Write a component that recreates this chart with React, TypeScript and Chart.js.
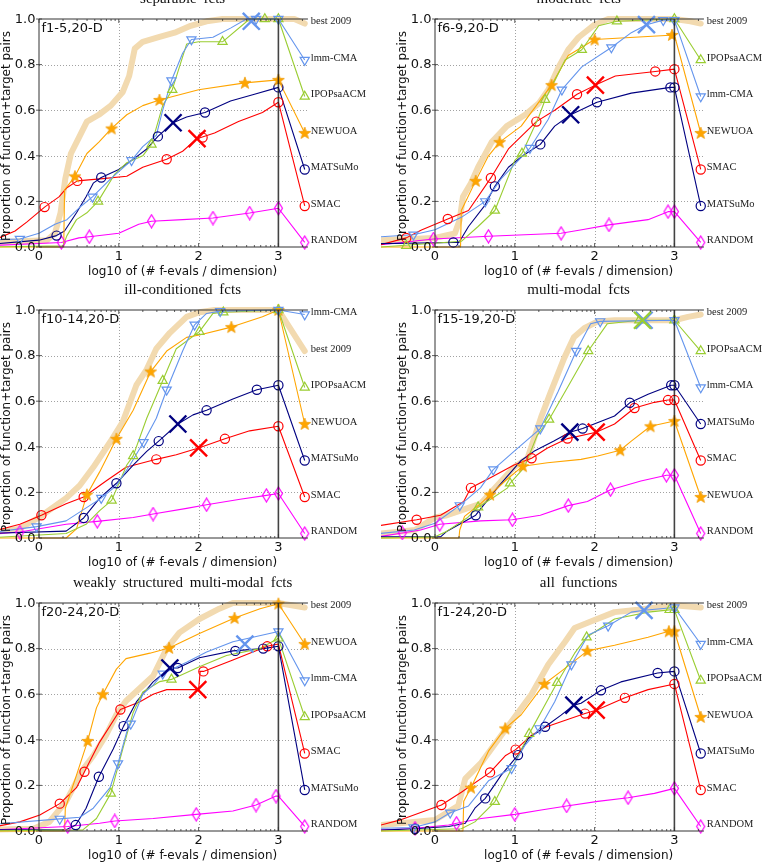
import React, { useEffect, useRef } from 'react';
import { Chart, registerables } from 'chart.js';

Chart.register(...registerables);

// ---------- shared axis / label settings ----------
const ALGS = ['lmm-CMA', 'IPOPsaACM', 'NEWUOA', 'MATSuMo', 'SMAC', 'RANDOM'];
const BEST = 'best 2009';
const LABEL_SLOTS = [0.98, 0.82, 0.66, 0.5, 0.34, 0.18, 0.02];
const END_X = 3.33;
const X_TICKS = [0, 1, 2, 3];
const Y_TICKS = [0, 0.2, 0.4, 0.6, 0.8, 1.0];
const X_LABEL = 'log10 of (# f-evals / dimension)';
const Y_LABEL = 'Proportion of function+target pairs';

// ---------- f1-5 separable ----------
const sepBest = [-0.68,0.02, 0.1,0.03, 0.2,0.06, 0.27,0.15, 0.33,0.3, 0.4,0.41, 0.5,0.48, 0.6,0.55, 0.75,0.58, 0.9,0.62, 1.05,0.68, 1.13,0.75, 1.2,0.87, 1.3,0.9, 1.5,0.92, 1.7,0.94, 1.9,0.97, 2.1,0.99, 2.3,1.0, 3.2,1.0];
const sepLmm = [-0.68,0.03, -0.24,0.035, 0.0,0.06, 0.2,0.1, 0.35,0.12, 0.53,0.18, 0.67,0.22, 0.9,0.3, 1.16,0.38, 1.3,0.44, 1.47,0.49, 1.55,0.6, 1.66,0.73, 1.8,0.85, 1.91,0.91, 2.18,0.92, 2.4,0.96, 2.6,1.0, 3.0,1.0];
const sepLmmMk = [-0.24,0.035, 0.67,0.22, 1.16,0.38, 1.66,0.73, 1.91,0.91, 2.72,1.0, 3.0,1.0];
const sepIpop = [-0.68,0.0, 0.3,0.005, 0.35,0.05, 0.47,0.12, 0.6,0.15, 0.74,0.2, 0.95,0.32, 1.1,0.37, 1.3,0.4, 1.41,0.45, 1.55,0.62, 1.67,0.69, 1.85,0.89, 2.0,0.9, 2.3,0.9, 2.64,1.0, 3.0,1.0];
const sepIpopMk = [0.74,0.2, 1.41,0.45, 1.67,0.69, 2.3,0.9, 2.83,1.0, 3.0,1.0];
const sepNew = [-0.68,0.0, 0.31,0.0, 0.32,0.25, 0.45,0.31, 0.6,0.41, 0.75,0.46, 0.91,0.52, 1.1,0.58, 1.3,0.62, 1.51,0.645, 2.0,0.69, 2.58,0.72, 3.0,0.733];
const sepNewMk = [0.45,0.31, 0.91,0.52, 1.51,0.645, 2.58,0.72, 3.0,0.733];
const sepMat = [-0.68,0.01, 0.0,0.03, 0.22,0.05, 0.32,0.07, 0.47,0.15, 0.59,0.22, 0.68,0.28, 0.78,0.305, 1.0,0.34, 1.2,0.39, 1.35,0.43, 1.49,0.485, 1.68,0.545, 1.85,0.57, 2.08,0.59, 2.4,0.64, 2.7,0.67, 3.0,0.7];
const sepMatMk = [0.22,0.05, 0.78,0.305, 1.49,0.485, 2.08,0.59, 3.0,0.7];
const sepSmac = [-0.68,0.02, -0.5,0.04, -0.3,0.07, -0.15,0.11, 0.07,0.175, 0.25,0.22, 0.35,0.26, 0.48,0.29, 0.8,0.3, 1.1,0.31, 1.3,0.35, 1.6,0.385, 1.8,0.42, 1.98,0.475, 2.2,0.5, 2.5,0.55, 2.8,0.59, 3.0,0.635];
const sepSmacMk = [0.07,0.175, 0.48,0.29, 1.6,0.385, 2.05,0.48, 3.0,0.635];
const sepRnd = [-0.68,0.005, 0.28,0.02, 0.5,0.04, 0.63,0.045, 1.0,0.06, 1.25,0.1, 1.41,0.113, 1.8,0.12, 2.18,0.127, 2.64,0.149, 3.0,0.17];
const sepRndMk = [0.28,0.02, 0.63,0.045, 1.41,0.113, 2.18,0.127, 2.64,0.149, 3.0,0.17];
const sepCross: [string, number, number][] = [['lmm-CMA',2.66,0.99], ['MATSuMo',1.68,0.545], ['SMAC',1.98,0.475]];
const sepOrder = ['best 2009','lmm-CMA','IPOPsaACM','NEWUOA','MATSuMo','SMAC','RANDOM'];

// ---------- f6-9 moderate ----------
const modBest = [-0.68,0.03, 0.0,0.04, 0.25,0.06, 0.31,0.12, 0.35,0.22, 0.45,0.28, 0.54,0.35, 0.71,0.46, 0.9,0.53, 1.13,0.58, 1.3,0.63, 1.42,0.69, 1.55,0.79, 1.67,0.865, 1.8,0.92, 2.0,0.975, 2.17,1.0, 3.0,1.0, 3.2,0.99];
const modLmm = [-0.68,0.045, -0.27,0.054, 0.0,0.076, 0.33,0.13, 0.63,0.2, 0.83,0.3, 1.19,0.434, 1.42,0.56, 1.59,0.69, 1.84,0.79, 2.21,0.875, 2.46,0.94, 2.65,0.975, 2.86,0.995, 3.0,0.995];
const modLmmMk = [-0.27,0.054, 0.63,0.2, 1.19,0.434, 1.59,0.69, 2.21,0.875, 2.86,0.995, 3.0,0.995];
const modIpop = [-0.68,0.0, 0.33,0.025, 0.54,0.09, 0.75,0.16, 1.0,0.38, 1.09,0.41, 1.3,0.57, 1.38,0.646, 1.63,0.82, 1.84,0.865, 2.05,0.97, 2.28,0.99, 3.0,1.0];
const modIpopMk = [-0.36,0.005, 0.75,0.16, 1.09,0.41, 1.38,0.646, 1.84,0.865, 2.28,0.99, 3.0,1.0];
const modNew = [-0.68,0.0, 0.32,0.0, 0.33,0.16, 0.51,0.29, 0.67,0.4, 0.81,0.46, 1.08,0.53, 1.29,0.63, 1.46,0.71, 1.67,0.84, 2.0,0.91, 2.5,0.92, 3.0,0.93];
const modNewMk = [0.51,0.29, 0.81,0.46, 1.46,0.71, 2.0,0.91, 2.97,0.93];
const modMat = [-0.68,0.015, 0.23,0.02, 0.3,0.02, 0.42,0.09, 0.62,0.18, 0.75,0.266, 0.92,0.35, 1.1,0.4, 1.32,0.45, 1.5,0.53, 1.7,0.58, 2.03,0.635, 2.46,0.675, 2.95,0.7, 3.0,0.7];
const modMatMk = [0.23,0.02, 0.75,0.266, 1.32,0.45, 2.03,0.635, 2.95,0.7, 3.0,0.7];
const modSmac = [-0.68,0.01, -0.36,0.04, -0.17,0.075, 0.16,0.123, 0.42,0.16, 0.7,0.303, 0.92,0.43, 1.27,0.55, 1.5,0.6, 1.78,0.67, 2.01,0.71, 2.26,0.75, 2.76,0.77, 3.0,0.78];
const modSmacMk = [-0.36,0.04, 0.16,0.123, 0.7,0.303, 1.27,0.55, 1.78,0.67, 2.76,0.77, 3.0,0.78];
const modRnd = [-0.68,0.01, -0.02,0.035, 0.67,0.047, 1.58,0.06, 1.84,0.076, 2.18,0.097, 2.67,0.12, 2.92,0.155, 3.0,0.155];
const modRndMk = [-0.02,0.035, 0.67,0.047, 1.58,0.06, 2.18,0.097, 2.92,0.155, 3.0,0.155];
const modCross: [string, number, number][] = [['lmm-CMA',2.65,0.975], ['MATSuMo',1.7,0.58], ['SMAC',2.01,0.71]];
const modOrder = ['best 2009','IPOPsaACM','lmm-CMA','NEWUOA','SMAC','MATSuMo','RANDOM'];

// ---------- f10-14 ill-conditioned ----------
const illBest = [-0.68,0.02, -0.25,0.04, 0.0,0.09, 0.34,0.175, 0.51,0.23, 0.68,0.31, 0.89,0.42, 1.05,0.51, 1.22,0.67, 1.35,0.74, 1.47,0.83, 1.64,0.9, 1.85,0.97, 2.01,0.99, 2.2,1.0, 3.0,1.0];
const illLmm = [-0.68,0.02, -0.03,0.05, 0.34,0.075, 0.78,0.175, 0.97,0.23, 1.14,0.32, 1.31,0.42, 1.47,0.525, 1.6,0.65, 1.8,0.82, 1.95,0.935, 2.1,0.985, 2.27,0.995, 3.0,1.0];
const illLmmMk = [-0.03,0.05, 0.78,0.175, 1.31,0.42, 1.6,0.65, 1.95,0.935, 2.27,0.995, 3.0,1.0];
const illIpop = [-0.68,0.0, 0.34,0.02, 0.59,0.06, 0.76,0.12, 0.91,0.165, 1.1,0.32, 1.18,0.36, 1.35,0.525, 1.55,0.69, 1.72,0.83, 2.01,0.905, 2.18,0.985, 2.31,0.99, 3.0,1.0];
const illIpopMk = [0.91,0.165, 1.18,0.36, 1.55,0.69, 2.01,0.905, 2.31,0.99, 3.0,1.0];
const illNew = [-0.68,0.0, 0.34,0.0, 0.47,0.04, 0.6,0.19, 0.76,0.29, 0.97,0.435, 1.18,0.56, 1.4,0.73, 1.6,0.82, 1.85,0.88, 2.01,0.89, 2.41,0.925, 2.8,0.97, 3.0,1.0];
const illNewMk = [0.6,0.19, 0.97,0.435, 1.4,0.73, 2.41,0.925, 3.0,1.0];
const illMat = [-0.68,0.02, 0.34,0.03, 0.56,0.088, 0.76,0.175, 0.97,0.24, 1.18,0.32, 1.35,0.38, 1.5,0.425, 1.74,0.5, 1.93,0.54, 2.1,0.56, 2.43,0.61, 2.73,0.65, 3.0,0.67];
const illMatMk = [0.56,0.088, 0.97,0.24, 1.5,0.425, 2.1,0.56, 2.73,0.65, 3.0,0.67];
const illSmac = [-0.68,0.02, -0.24,0.06, 0.03,0.1, 0.34,0.15, 0.56,0.18, 0.84,0.25, 1.09,0.31, 1.47,0.345, 1.72,0.365, 2.0,0.395, 2.33,0.435, 2.64,0.47, 3.0,0.49];
const illSmacMk = [0.03,0.1, 0.56,0.18, 1.47,0.345, 2.33,0.435, 3.0,0.49];
const illRnd = [-0.68,0.015, -0.24,0.026, 0.34,0.06, 0.73,0.073, 1.18,0.09, 1.43,0.105, 1.85,0.13, 2.1,0.146, 2.52,0.17, 2.85,0.187, 3.0,0.195];
const illRndMk = [-0.24,0.026, 0.73,0.073, 1.43,0.105, 2.1,0.146, 2.85,0.187, 3.0,0.195];
const illCross: [string, number, number][] = [['MATSuMo',1.74,0.5], ['SMAC',2.0,0.395]];
const illOrder = ['lmm-CMA','best 2009','IPOPsaACM','NEWUOA','MATSuMo','SMAC','RANDOM'];

// ---------- f15-19 multi-modal ----------
const mulBest = [-0.68,0.02, -0.25,0.035, 0.0,0.09, 0.15,0.1, 0.57,0.15, 0.78,0.23, 0.99,0.31, 1.16,0.35, 1.33,0.53, 1.45,0.64, 1.62,0.79, 1.74,0.88, 1.87,0.92, 2.04,0.95, 2.25,0.955, 3.0,0.955, 3.17,0.97];
const mulLmm = [-0.68,0.02, -0.26,0.035, 0.0,0.065, 0.31,0.143, 0.57,0.22, 0.73,0.3, 0.99,0.38, 1.32,0.48, 1.54,0.64, 1.77,0.82, 1.95,0.94, 2.07,0.95, 3.0,0.955];
const mulLmmMk = [0.31,0.143, 0.73,0.3, 1.32,0.48, 1.77,0.82, 2.07,0.95, 3.0,0.955];
const mulIpop = [-0.68,0.0, 0.0,0.005, 0.15,0.03, 0.41,0.09, 0.54,0.135, 0.74,0.18, 0.91,0.22, 0.94,0.24, 1.12,0.31, 1.28,0.45, 1.43,0.52, 1.66,0.66, 1.92,0.82, 2.16,0.94, 2.56,0.955, 3.0,0.955];
const mulIpopMk = [0.54,0.135, 0.94,0.24, 1.43,0.52, 1.92,0.82, 2.56,0.955, 3.0,0.955];
const mulNew = [-0.68,0.0, 0.3,0.0, 0.31,0.035, 0.37,0.095, 0.57,0.15, 0.69,0.19, 0.91,0.26, 1.1,0.315, 1.41,0.33, 1.83,0.345, 2.04,0.36, 2.32,0.385, 2.46,0.425, 2.7,0.49, 3.0,0.513];
const mulNewMk = [0.69,0.19, 1.1,0.315, 2.32,0.385, 2.7,0.49, 3.0,0.513];
const mulMat = [-0.68,0.005, 0.07,0.005, 0.15,0.03, 0.51,0.1, 0.78,0.22, 1.08,0.34, 1.24,0.38, 1.49,0.425, 1.69,0.464, 1.85,0.48, 2.25,0.535, 2.44,0.593, 2.67,0.63, 2.96,0.67, 3.0,0.67];
const mulMatMk = [0.51,0.1, 1.85,0.48, 2.44,0.593, 2.96,0.67, 3.0,0.67];
const mulSmac = [-0.68,0.055, -0.23,0.08, 0.07,0.1, 0.36,0.16, 0.45,0.22, 0.7,0.265, 0.99,0.32, 1.21,0.35, 1.41,0.395, 1.66,0.436, 2.02,0.464, 2.25,0.5, 2.5,0.57, 2.75,0.595, 2.92,0.605, 3.0,0.605];
const mulSmacMk = [-0.23,0.08, 0.45,0.22, 1.21,0.35, 1.66,0.436, 2.5,0.57, 2.92,0.605, 3.0,0.605];
const mulRnd = [-0.68,0.007, -0.41,0.022, -0.18,0.035, 0.06,0.06, 0.57,0.075, 0.97,0.08, 1.32,0.1, 1.67,0.142, 1.91,0.16, 2.2,0.212, 2.58,0.25, 2.9,0.275, 3.0,0.275];
const mulRndMk = [-0.41,0.022, 0.06,0.06, 0.97,0.08, 1.67,0.142, 2.2,0.212, 2.9,0.275, 3.0,0.275];
const mulCross: [string, number, number][] = [['IPOPsaACM',2.6,0.955], ['lmm-CMA',2.62,0.955], ['MATSuMo',1.69,0.464], ['SMAC',2.02,0.464]];
const mulOrder = ['best 2009','IPOPsaACM','lmm-CMA','MATSuMo','SMAC','NEWUOA','RANDOM'];

// ---------- f20-24 weakly structured multi-modal ----------
const weaBest = [-0.68,0.005, -0.07,0.01, 0.13,0.04, 0.34,0.13, 0.55,0.27, 0.68,0.33, 0.84,0.42, 0.97,0.51, 1.09,0.57, 1.26,0.625, 1.43,0.68, 1.6,0.8, 1.76,0.87, 2.01,0.93, 2.26,0.975, 2.43,1.0, 3.0,1.0];
const weaLmm = [-0.68,0.026, 0.26,0.053, 0.51,0.06, 0.68,0.1, 0.89,0.19, 0.99,0.296, 1.1,0.435, 1.15,0.47, 1.3,0.6, 1.43,0.64, 1.55,0.69, 1.85,0.74, 2.1,0.785, 2.43,0.83, 2.68,0.85, 3.0,0.875];
const weaLmmMk = [0.26,0.053, 0.99,0.296, 1.15,0.47, 1.55,0.69, 3.0,0.875];
const weaIpop = [-0.68,0.0, 0.55,0.005, 0.72,0.055, 0.9,0.165, 1.05,0.36, 1.18,0.52, 1.3,0.61, 1.51,0.655, 1.66,0.665, 2.01,0.72, 2.35,0.77, 2.77,0.8, 3.0,0.845];
const weaIpopMk = [0.9,0.165, 1.66,0.665, 3.0,0.845];
const weaNew = [-0.68,0.0, 0.32,0.0, 0.33,0.1, 0.47,0.245, 0.61,0.395, 0.72,0.54, 0.8,0.6, 0.97,0.71, 1.09,0.756, 1.39,0.78, 1.63,0.803, 2.01,0.866, 2.45,0.934, 2.77,0.975, 3.0,0.997];
const weaNewMk = [0.61,0.395, 0.8,0.6, 1.63,0.803, 2.45,0.934, 3.0,0.997];
const weaMat = [-0.68,0.005, 0.34,0.005, 0.46,0.026, 0.59,0.1, 0.75,0.238, 0.93,0.36, 1.06,0.46, 1.22,0.566, 1.43,0.654, 1.64,0.715, 1.74,0.715, 2.01,0.76, 2.43,0.79, 2.81,0.8, 3.0,0.81];
const weaMatMk = [0.46,0.026, 0.75,0.238, 1.06,0.46, 1.74,0.715, 2.46,0.79, 2.81,0.8, 3.0,0.81];
const weaSmac = [-0.68,0.01, -0.24,0.04, 0.01,0.07, 0.26,0.12, 0.47,0.19, 0.57,0.26, 0.76,0.39, 1.02,0.533, 1.26,0.566, 1.43,0.6, 1.6,0.62, 2.0,0.62, 2.02,0.7, 2.06,0.7, 2.43,0.75, 2.86,0.81, 3.0,0.82];
const weaSmacMk = [0.26,0.12, 0.57,0.26, 1.02,0.533, 2.06,0.7, 2.86,0.81];
const weaRnd = [-0.68,0.003, 0.36,0.02, 0.76,0.034, 0.95,0.044, 1.43,0.055, 1.97,0.073, 2.43,0.088, 2.72,0.114, 2.97,0.153, 3.0,0.153];
const weaRndMk = [0.36,0.02, 0.95,0.044, 1.97,0.073, 2.72,0.114, 2.97,0.153];
const weaCross: [string, number, number][] = [['lmm-CMA',2.58,0.82], ['MATSuMo',1.64,0.715], ['SMAC',1.99,0.62]];
const weaOrder = ['best 2009','NEWUOA','lmm-CMA','IPOPsaACM','SMAC','MATSuMo','RANDOM'];

// ---------- f1-24 all functions ----------
const allBest = [-0.68,0.026, 0.0,0.048, 0.29,0.11, 0.38,0.23, 0.58,0.3, 0.79,0.4, 1.0,0.5, 1.21,0.6, 1.42,0.73, 1.63,0.83, 1.75,0.89, 1.96,0.92, 2.25,0.96, 2.54,0.97, 3.0,0.99];
const allLmm = [-0.68,0.012, -0.27,0.015, 0.0,0.04, 0.19,0.08, 0.42,0.11, 0.67,0.22, 0.96,0.275, 1.13,0.377, 1.31,0.45, 1.5,0.567, 1.71,0.73, 1.92,0.86, 2.17,0.9, 2.46,0.96, 2.62,0.968, 3.0,0.98];
const allLmmMk = [-0.27,0.015, 0.19,0.08, 0.96,0.275, 1.31,0.45, 1.71,0.73, 2.17,0.9, 3.0,0.98];
const allIpop = [-0.68,0.0, 0.33,0.01, 0.5,0.04, 0.75,0.128, 1.0,0.3, 1.18,0.426, 1.42,0.58, 1.53,0.65, 1.75,0.78, 1.9,0.85, 2.25,0.93, 2.67,0.96, 2.94,0.97, 3.0,0.97];
const allIpopMk = [0.75,0.128, 1.18,0.426, 1.53,0.65, 1.9,0.85, 2.94,0.97, 3.0,0.97];
const allNew = [-0.68,0.0, 0.35,0.0, 0.36,0.13, 0.45,0.19, 0.67,0.35, 0.88,0.45, 1.08,0.51, 1.37,0.645, 1.58,0.7, 1.91,0.79, 2.25,0.815, 2.67,0.85, 2.93,0.876, 3.0,0.876];
const allNewMk = [0.45,0.19, 0.88,0.45, 1.37,0.645, 1.91,0.79, 2.93,0.876, 3.0,0.876];
const allMat = [-0.68,0.004, -0.25,0.01, 0.17,0.02, 0.38,0.034, 0.5,0.1, 0.63,0.143, 0.83,0.245, 1.04,0.333, 1.17,0.406, 1.38,0.457, 1.58,0.508, 1.74,0.552, 1.83,0.56, 2.08,0.617, 2.33,0.654, 2.79,0.693, 3.0,0.7];
const allMatMk = [-0.25,0.01, 0.63,0.143, 1.04,0.333, 1.38,0.457, 2.08,0.617, 2.79,0.693, 3.0,0.7];
const allSmac = [-0.68,0.026, -0.42,0.05, 0.08,0.114, 0.33,0.17, 0.69,0.257, 0.88,0.33, 1.01,0.357, 1.21,0.42, 1.38,0.455, 1.67,0.49, 1.88,0.515, 2.02,0.53, 2.38,0.584, 2.67,0.62, 3.0,0.645];
const allSmacMk = [0.08,0.114, 0.69,0.257, 1.01,0.357, 1.88,0.515, 2.38,0.584, 3.0,0.645];
const allRnd = [-0.68,0.004, -0.25,0.012, 0.17,0.026, 0.27,0.034, 0.58,0.055, 1.0,0.073, 1.33,0.092, 1.65,0.11, 2.04,0.13, 2.42,0.146, 2.75,0.165, 3.0,0.187];
const allRndMk = [-0.25,0.012, 0.27,0.034, 1.0,0.073, 1.65,0.11, 2.42,0.146, 3.0,0.187];
const allCross: [string, number, number][] = [['lmm-CMA',2.62,0.968], ['MATSuMo',1.74,0.552], ['SMAC',2.02,0.53]];
const allOrder = ['best 2009','lmm-CMA','IPOPsaACM','NEWUOA','MATSuMo','SMAC','RANDOM'];

// ---------- styling ----------
const COLORS: Record<string, string> = {
  'lmm-CMA': '#6495ED',
  'IPOPsaACM': '#9ACD32',
  'NEWUOA': '#FFA500',
  'MATSuMo': '#000080',
  'SMAC': '#FF0000',
  'RANDOM': '#FF00FF',
};
const BEST_COLOR = 'rgb(242, 218, 176)';

const CW = 400;
const CH = 300;
const X0PX = 54;
const UNIT = 79.8;
const X_MIN = -X0PX / UNIT;
const X_MAX = 3.37;
const PAD_TOP = 40;
const PLOT_H = 228;

type Panel = {
  title: string;
  tag: string;
  order: string[];
  best: number[];
  curves: Record<string, number[]>;
  marks: Record<string, number[]>;
  crosses: [string, number, number][];
  left: number;
  top: number;
};

const COL_LEFT = [-15, 381];
const ROW_TOP = [-21, 270, 563];

const PANELS: Panel[] = [
  { title: 'separable fcts', tag: 'f1-5,20-D', order: sepOrder, best: sepBest,
    curves: { 'lmm-CMA': sepLmm, 'IPOPsaACM': sepIpop, 'NEWUOA': sepNew, 'MATSuMo': sepMat, 'SMAC': sepSmac, 'RANDOM': sepRnd },
    marks: { 'lmm-CMA': sepLmmMk, 'IPOPsaACM': sepIpopMk, 'NEWUOA': sepNewMk, 'MATSuMo': sepMatMk, 'SMAC': sepSmacMk, 'RANDOM': sepRndMk },
    crosses: sepCross, left: COL_LEFT[0], top: ROW_TOP[0] },
  { title: 'moderate fcts', tag: 'f6-9,20-D', order: modOrder, best: modBest,
    curves: { 'lmm-CMA': modLmm, 'IPOPsaACM': modIpop, 'NEWUOA': modNew, 'MATSuMo': modMat, 'SMAC': modSmac, 'RANDOM': modRnd },
    marks: { 'lmm-CMA': modLmmMk, 'IPOPsaACM': modIpopMk, 'NEWUOA': modNewMk, 'MATSuMo': modMatMk, 'SMAC': modSmacMk, 'RANDOM': modRndMk },
    crosses: modCross, left: COL_LEFT[1], top: ROW_TOP[0] },
  { title: 'ill-conditioned fcts', tag: 'f10-14,20-D', order: illOrder, best: illBest,
    curves: { 'lmm-CMA': illLmm, 'IPOPsaACM': illIpop, 'NEWUOA': illNew, 'MATSuMo': illMat, 'SMAC': illSmac, 'RANDOM': illRnd },
    marks: { 'lmm-CMA': illLmmMk, 'IPOPsaACM': illIpopMk, 'NEWUOA': illNewMk, 'MATSuMo': illMatMk, 'SMAC': illSmacMk, 'RANDOM': illRndMk },
    crosses: illCross, left: COL_LEFT[0], top: ROW_TOP[1] },
  { title: 'multi-modal fcts', tag: 'f15-19,20-D', order: mulOrder, best: mulBest,
    curves: { 'lmm-CMA': mulLmm, 'IPOPsaACM': mulIpop, 'NEWUOA': mulNew, 'MATSuMo': mulMat, 'SMAC': mulSmac, 'RANDOM': mulRnd },
    marks: { 'lmm-CMA': mulLmmMk, 'IPOPsaACM': mulIpopMk, 'NEWUOA': mulNewMk, 'MATSuMo': mulMatMk, 'SMAC': mulSmacMk, 'RANDOM': mulRndMk },
    crosses: mulCross, left: COL_LEFT[1], top: ROW_TOP[1] },
  { title: 'weakly structured multi-modal fcts', tag: 'f20-24,20-D', order: weaOrder, best: weaBest,
    curves: { 'lmm-CMA': weaLmm, 'IPOPsaACM': weaIpop, 'NEWUOA': weaNew, 'MATSuMo': weaMat, 'SMAC': weaSmac, 'RANDOM': weaRnd },
    marks: { 'lmm-CMA': weaLmmMk, 'IPOPsaACM': weaIpopMk, 'NEWUOA': weaNewMk, 'MATSuMo': weaMatMk, 'SMAC': weaSmacMk, 'RANDOM': weaRndMk },
    crosses: weaCross, left: COL_LEFT[0], top: ROW_TOP[2] },
  { title: 'all functions', tag: 'f1-24,20-D', order: allOrder, best: allBest,
    curves: { 'lmm-CMA': allLmm, 'IPOPsaACM': allIpop, 'NEWUOA': allNew, 'MATSuMo': allMat, 'SMAC': allSmac, 'RANDOM': allRnd },
    marks: { 'lmm-CMA': allLmmMk, 'IPOPsaACM': allIpopMk, 'NEWUOA': allNewMk, 'MATSuMo': allMatMk, 'SMAC': allSmacMk, 'RANDOM': allRndMk },
    crosses: allCross, left: COL_LEFT[1], top: ROW_TOP[2] },
];

function pairs(flat: number[]) {
  const out: { x: number; y: number }[] = [];
  for (let i = 0; i + 1 < flat.length; i += 2) out.push({ x: flat[i], y: flat[i + 1] });
  return out;
}

// small sprite markers: filled five-point star and a slim hollow diamond
let starImg: HTMLCanvasElement | null = null;
let diamondImg: HTMLCanvasElement | null = null;
function star() {
  if (starImg) return starImg;
  const c = document.createElement('canvas');
  c.width = 14; c.height = 14;
  const g = c.getContext('2d')!;
  g.beginPath();
  for (let i = 0; i < 10; i++) {
    const r = i % 2 === 0 ? 6.3 : 2.6;
    const a = -Math.PI / 2 + (i * Math.PI) / 5;
    const px = 7 + r * Math.cos(a);
    const py = 7.4 + r * Math.sin(a);
    if (i === 0) g.moveTo(px, py); else g.lineTo(px, py);
  }
  g.closePath();
  g.fillStyle = '#FFA500';
  g.fill();
  g.strokeStyle = '#F0A010';
  g.lineWidth = 0.8;
  g.stroke();
  starImg = c;
  return c;
}
function diamond() {
  if (diamondImg) return diamondImg;
  const c = document.createElement('canvas');
  c.width = 11; c.height = 15;
  const g = c.getContext('2d')!;
  g.beginPath();
  g.moveTo(5.5, 1); g.lineTo(9.5, 7.5); g.lineTo(5.5, 14); g.lineTo(1.5, 7.5);
  g.closePath();
  g.strokeStyle = '#FF00FF';
  g.lineWidth = 1.2;
  g.stroke();
  diamondImg = c;
  return c;
}

function markerStyle(alg: string): any {
  if (alg === 'NEWUOA') return { pointStyle: star(), pointRadius: 6 };
  if (alg === 'RANDOM') return { pointStyle: diamond(), pointRadius: 6 };
  if (alg === 'lmm-CMA') return { pointStyle: 'triangle', pointRadius: 5.3, pointRotation: 180 };
  if (alg === 'IPOPsaACM') return { pointStyle: 'triangle', pointRadius: 5.3 };
  return { pointStyle: 'circle', pointRadius: 4.6 };
}

function buildDatasets(p: Panel) {
  const ds: any[] = [];
  const slot = (name: string) => LABEL_SLOTS[p.order.indexOf(name)];
  for (const [alg, x, y] of p.crosses) {
    ds.push({
      data: [{ x, y }], showLine: false, clip: false,
      pointStyle: 'crossRot', pointRadius: 12, pointBorderWidth: 2.4,
      pointBorderColor: COLORS[alg], pointBackgroundColor: 'rgba(0,0,0,0)', borderColor: COLORS[alg],
    });
  }
  for (const alg of ALGS) {
    const m = pairs(p.marks[alg]).concat([{ x: END_X, y: slot(alg) }]);
    ds.push({
      data: m, showLine: false, clip: false,
      ...markerStyle(alg),
      pointBorderWidth: 1.2,
      pointBorderColor: COLORS[alg],
      pointBackgroundColor: alg === 'NEWUOA' ? COLORS[alg] : 'rgba(0,0,0,0)',
      borderColor: COLORS[alg],
    });
  }
  for (const alg of ALGS) {
    const line = pairs(p.curves[alg]).concat([{ x: END_X, y: slot(alg) }]);
    ds.push({
      data: line, clip: false, borderColor: COLORS[alg], borderWidth: 1.1,
      pointRadius: 0, tension: 0, fill: false, borderJoinStyle: 'round',
    });
  }
  ds.push({
    data: pairs(p.best).concat([{ x: END_X, y: slot(BEST) }]),
    clip: false, borderColor: BEST_COLOR, borderWidth: 6, pointRadius: 0,
    tension: 0, fill: false, borderJoinStyle: 'round', borderCapStyle: 'round',
  });
  return ds;
}

const SANS = '"DejaVu Sans", sans-serif';
const SERIF = '"Liberation Serif", "DejaVu Serif", serif';

const framePlugin = {
  id: 'bbobFrame',
  beforeDatasetsDraw(chart: any) {
    const { ctx } = chart;
    const xs = chart.scales.x;
    const ys = chart.scales.y;
    const X = (v: number) => xs.getPixelForValue(v);
    const Y = (v: number) => ys.getPixelForValue(v);
    ctx.save();
    ctx.strokeStyle = '#8a8a8a';
    ctx.lineWidth = 0.8;
    ctx.setLineDash([1, 2]);
    for (const t of Y_TICKS) {
      if (t === 0 || t === 1) continue;
      ctx.beginPath();
      ctx.moveTo(X(0), Math.round(Y(t)) + 0.5);
      ctx.lineTo(X(X_MAX), Math.round(Y(t)) + 0.5);
      ctx.stroke();
    }
    for (const t of X_TICKS) {
      if (t === 0 || t === 3) continue;
      ctx.beginPath();
      ctx.moveTo(Math.round(X(t)) + 0.5, Y(0));
      ctx.lineTo(Math.round(X(t)) + 0.5, Y(1));
      ctx.stroke();
    }
    ctx.restore();
  },
  afterDatasetsDraw(chart: any, _args: any, opts: any) {
    const { ctx } = chart;
    const xs = chart.scales.x;
    const ys = chart.scales.y;
    const X = (v: number) => xs.getPixelForValue(v);
    const Y = (v: number) => ys.getPixelForValue(v);
    const x0 = X(0);
    const xr = X(X_MAX);
    const yb = Y(0);
    const yt = Y(1);
    ctx.save();
    // frame
    ctx.strokeStyle = '#333';
    ctx.lineWidth = 1;
    ctx.beginPath();
    ctx.moveTo(x0, yt); ctx.lineTo(xr, yt);
    ctx.moveTo(x0, yb); ctx.lineTo(xr, yb);
    ctx.moveTo(x0, yb); ctx.lineTo(x0, yt);
    ctx.stroke();
    // budget line at 10^3
    ctx.strokeStyle = 'rgba(20,20,20,0.8)';
    ctx.lineWidth = 1.6;
    ctx.beginPath();
    ctx.moveTo(X(3), yb); ctx.lineTo(X(3), yt);
    ctx.stroke();
    // minor / major x ticks along top and bottom
    ctx.strokeStyle = '#333';
    ctx.lineWidth = 0.8;
    ctx.beginPath();
    for (let d = 0; d <= 3; d++) {
      for (let k = 1; k <= 9; k++) {
        const v = d + Math.log10(k);
        if (v > X_MAX) continue;
        const len = k === 1 ? 4 : 2;
        const px = X(v);
        ctx.moveTo(px, yb); ctx.lineTo(px, yb - len);
        ctx.moveTo(px, yt); ctx.lineTo(px, yt + len);
      }
    }
    // y ticks
    for (const t of Y_TICKS) {
      ctx.moveTo(x0 - 3, Y(t)); ctx.lineTo(x0 + 3, Y(t));
    }
    ctx.stroke();
    // tick labels
    ctx.fillStyle = '#111';
    ctx.font = `13px ${SANS}`;
    ctx.textAlign = 'right';
    ctx.textBaseline = 'middle';
    for (const t of Y_TICKS) ctx.fillText(t.toFixed(1), x0 - 3.5, Y(t) + 0.5);
    ctx.textAlign = 'center';
    for (const t of X_TICKS) ctx.fillText(String(t), X(t), yb + 10);
    // axis titles
    ctx.font = `12px ${SANS}`;
    ctx.fillText(X_LABEL, X(1.8), yb + 25);
    ctx.save();
    ctx.translate(x0 - 32, (yb + yt) / 2 + 3);
    ctx.rotate(-Math.PI / 2);
    ctx.fillText(Y_LABEL, 0, 0);
    ctx.restore();
    // panel tag
    ctx.font = `13px ${SANS}`;
    ctx.textAlign = 'left';
    ctx.fillText(opts.tag, x0 + 2.5, yt + 9.5);
    // title
    ctx.font = `15px ${SERIF}`;
    ctx.textAlign = 'center';
    try { (ctx as any).wordSpacing = '3px'; } catch (e) { /* not supported */ }
    ctx.fillText(opts.title, X(1.8), yt - 20);
    try { (ctx as any).wordSpacing = '0px'; } catch (e) { /* not supported */ }
    // algorithm labels at the right end
    ctx.font = `10.5px ${SERIF}`;
    ctx.textAlign = 'left';
    ctx.fillStyle = '#222';
    (opts.order as string[]).forEach((name, i) => {
      ctx.fillText(name, X(END_X) + 6, Y(LABEL_SLOTS[i]) - 2);
    });
    ctx.restore();
  },
};

function PanelChart({ p }: { p: Panel }) {
  const ref = useRef<HTMLCanvasElement>(null);
  useEffect(() => {
    if (!ref.current) return;
    const chart = new Chart(ref.current, {
      type: 'line',
      data: { datasets: buildDatasets(p) },
      options: {
        animation: false,
        responsive: false,
        events: [],
        layout: {
          autoPadding: false,
          padding: { left: 0, top: PAD_TOP, right: CW - (X0PX + X_MAX * UNIT), bottom: CH - PAD_TOP - PLOT_H },
        },
        scales: {
          x: { type: 'linear', min: X_MIN, max: X_MAX, display: false },
          y: { type: 'linear', min: 0, max: 1, display: false },
        },
        plugins: {
          legend: { display: false },
          tooltip: { enabled: false },
          bbobFrame: { title: p.title, tag: p.tag, order: p.order },
        } as any,
      },
      plugins: [framePlugin],
    } as any);
    return () => chart.destroy();
  }, [p]);
  return (
    <canvas
      ref={ref}
      width={CW}
      height={CH}
      style={{ position: 'absolute', left: p.left, top: p.top, width: CW, height: CH }}
    />
  );
}

export default function App() {
  return (
    <div style={{ position: 'absolute', left: 0, top: 0, width: 762, height: 862, overflow: 'hidden', background: '#fff' }}>
      {PANELS.map((p, i) => (
        <PanelChart key={i} p={p} />
      ))}
    </div>
  );
}
